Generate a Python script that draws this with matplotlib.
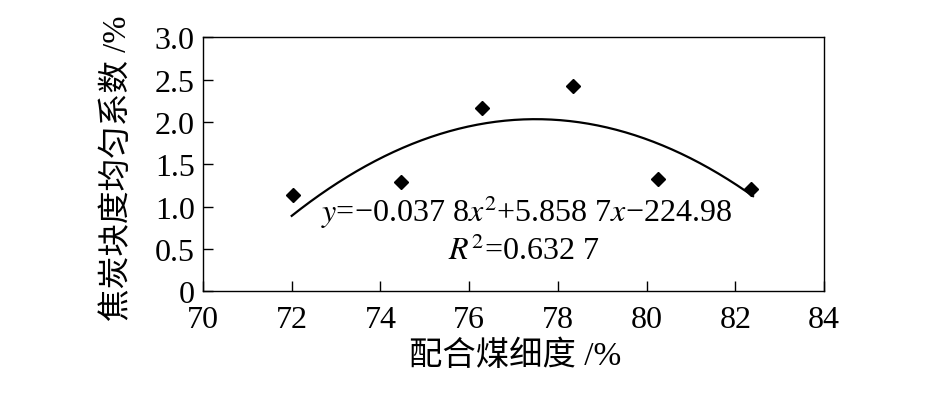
import numpy as np
import matplotlib
matplotlib.use("Agg")
import matplotlib.pyplot as plt

plt.rcParams['font.family'] = ['Liberation Serif', 'Noto Sans CJK SC']
plt.rcParams['mathtext.fontset'] = 'stix'

# data
fineness = [72.03, 74.47, 76.28, 78.35, 80.26, 82.36]
uniformity = [1.14, 1.29, 2.17, 2.43, 1.33, 1.21]
coef = [-0.0378, 5.8587, -224.98]
fit_range = [72.0, 82.4]
x_ticks = [70, 72, 74, 76, 78, 80, 82, 84]
y_ticks = [0, 0.5, 1.0, 1.5, 2.0, 2.5, 3.0]
y_ticklabels = ['0', '0.5', '1.0', '1.5', '2.0', '2.5', '3.0']
xlabel = '配合煤细度 /%'
ylabel = '焦炭块度均匀系数 /%'
eq_text = r'$y$=−0.037 8$x^2$+5.858 7$x$−224.98'
r2_text = r'$R^2$=0.632 7'

W, H = 945, 402
fig = plt.figure(figsize=(W/100, H/100), dpi=100)
ax = fig.add_axes([203/W, 1-292.3/H, (824-203)/W, (292.3-38.3)/H])

xs = np.linspace(fit_range[0], fit_range[1], 200)
ax.plot(xs, np.polyval(coef, xs), color='black', lw=1.6)
ax.plot(fineness, uniformity, linestyle='none', marker='D', ms=7.5, color='black')

ax.set_xlim(70, 84)
ax.set_ylim(0, 3.0)
ax.set_xticks(x_ticks)
ax.set_xticklabels([str(t) for t in x_ticks])
ax.set_yticks(y_ticks)
ax.set_yticklabels(y_ticklabels)
ax.tick_params(direction='in', length=7, width=1, labelsize=23, color='black')
ax.tick_params(axis='x', pad=10)
ax.tick_params(axis='y', pad=6)
for s in ax.spines.values():
    s.set_linewidth(1.0)
    s.set_color('black')

fig.text(515/W, 1-356/H, xlabel, fontsize=24, ha='center', va='center')
fig.text(118/W, 1-168/H, ylabel, fontsize=23.5, ha='center', va='center', rotation=90)

fig.text(526/W, 1-212/H, eq_text, fontsize=23, ha='center', va='center')
fig.text(524/W, 1-252/H, r2_text, fontsize=23, ha='center', va='center')

fig.savefig('out.png', dpi=100)
